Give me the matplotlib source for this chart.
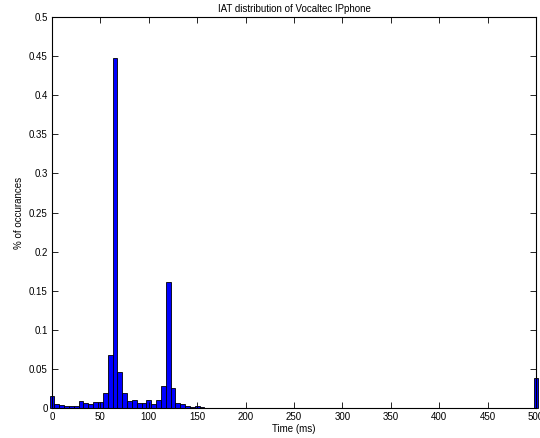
import numpy as np
import matplotlib
matplotlib.use("Agg")
import matplotlib.pyplot as plt

plt.rcParams['font.family'] = ['Liberation Sans', 'DejaVu Sans']

# bin centres (ms), 5 ms bins
bin_centers = list(range(0, 505, 5))

# fraction of occurrences per bin
head = [0.015, 0.005, 0.0035, 0.0025, 0.0025, 0.0025, 0.009, 0.007, 0.005, 0.0077,
        0.0077, 0.019, 0.068, 0.448, 0.046, 0.0197, 0.009, 0.010, 0.0064, 0.0064,
        0.010, 0.0056, 0.010, 0.028, 0.161, 0.026, 0.007, 0.0045, 0.0025, 0.001,
        0.002, 0.0012]
tail = [0.0006, 0.0004, 0.0005, 0.0003, 0.0004, 0.0003, 0.0002, 0.0003, 0.0003, 0.0002,
        0.0002, 0.0003, 0.0002, 0.0002, 0.0001, 0.0002, 0.0002, 0.0001, 0.0002, 0.0001,
        0.0001, 0.0002, 0.0001, 0.0001, 0.0001, 0.0001, 0.0002, 0.0001, 0.0001, 0.0001,
        0.0001, 0.0001, 0.0001, 0.0001, 0.0001, 0.0001, 0.0001, 0.0001, 0.0001, 0.0001,
        0.0001, 0.0001, 0.0001, 0.0001, 0.0001, 0.0001, 0.0001, 0.0001, 0.0001, 0.0001,
        0.0001, 0.0001, 0.0001, 0.0001, 0.0001, 0.0001, 0.0001, 0.0001, 0.0001, 0.0001,
        0.0001, 0.0001, 0.0001, 0.0001, 0.0001, 0.0001, 0.0001, 0.0001]
last = [0.038]
fractions = head + tail + last

x_ticks = list(range(0, 550, 50))
y_ticks = [0, 0.05, 0.1, 0.15, 0.2, 0.25, 0.3, 0.35, 0.4, 0.45, 0.5]
y_labels = ["0", "0.05", "0.1", "0.15", "0.2", "0.25", "0.3", "0.35", "0.4", "0.45", "0.5"]

fig = plt.figure(figsize=(5.4, 4.38), dpi=100)
ax = fig.add_axes([0.0963, 0.0685, 0.8963, 0.8925])

bars = ax.bar(bin_centers, fractions, width=5, color="#0000ff", edgecolor="black", linewidth=0.6)
for b in bars:
    b.set_clip_on(False)

ax.set_xlim(0, 500)
ax.set_ylim(0, 0.5)
ax.set_xticks(x_ticks)
ax.set_yticks(y_ticks)
ax.set_yticklabels(y_labels)
ax.tick_params(direction="in", top=True, right=True, labelsize=7, length=4, width=0.6, pad=3)
for s in ax.spines.values():
    s.set_linewidth(0.8)

ax.set_title("IAT distribution of Vocaltec IPphone", fontsize=7, pad=4)
ax.set_xlabel("Time (ms)", fontsize=7, labelpad=1)
ax.set_ylabel("% of occurances", fontsize=7, labelpad=4)

fig.savefig("out.png", dpi=100)
